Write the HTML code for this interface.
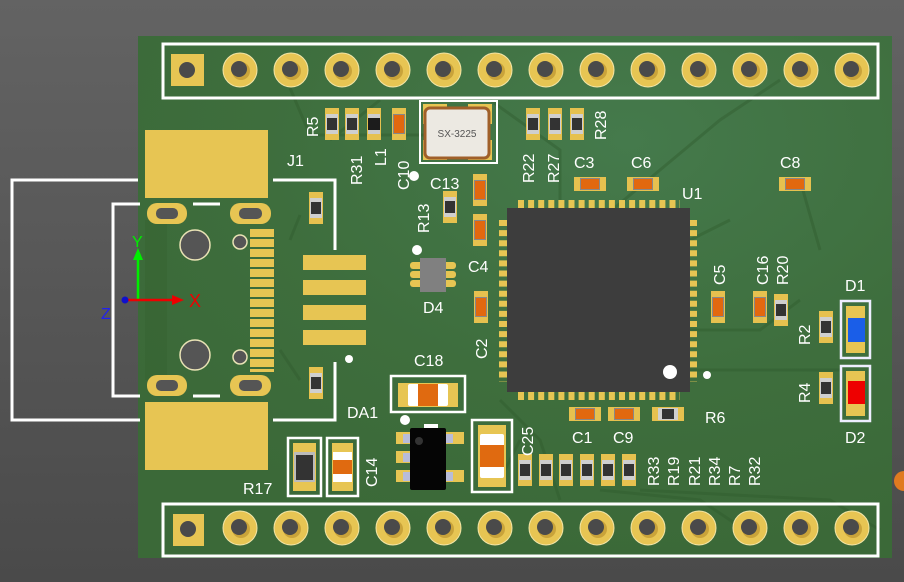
<!DOCTYPE html>
<html><head><meta charset="utf-8"><style>
html,body{margin:0;padding:0;width:904px;height:582px;overflow:hidden;background:#5c5c5c}
svg{display:block}
text{font-family:"Liberation Sans",sans-serif;fill:#fff;font-size:16px}
</style></head><body>
<svg width="904" height="582" viewBox="0 0 904 582" xmlns="http://www.w3.org/2000/svg">
<defs>
<linearGradient id="bg" x1="0" y1="0" x2="0" y2="1"><stop offset="0" stop-color="#636363"/><stop offset="1" stop-color="#4a4a4a"/></linearGradient>
<radialGradient id="brd" cx="0.65" cy="0.2" r="0.8"><stop offset="0" stop-color="#457a4c"/><stop offset="0.6" stop-color="#3e6e3d"/><stop offset="1" stop-color="#3b6938"/></radialGradient>
<g id="pin"><circle r="17" fill="#e7c553" stroke="#f3e6a8" stroke-width="1"/><circle cx="1" cy="1" r="9" fill="#c9a33a"/><circle cx="-1" cy="-1" r="8" fill="#4a4a4a"/></g>
<g id="rv"><rect x="-7" y="-16" width="14" height="32" fill="#e6c14f"/><rect x="-6" y="-10" width="12" height="20" fill="#cfcfcf"/><rect x="-5" y="-6" width="10" height="12" fill="#333"/></g>
<g id="cv"><rect x="-7" y="-16" width="14" height="32" fill="#e6c14f"/><rect x="-6" y="-10" width="12" height="20" fill="#888"/><rect x="-5" y="-9" width="10" height="18" fill="#e2680f"/></g>
<g id="lv"><rect x="-7" y="-16" width="14" height="32" fill="#e6c14f"/><rect x="-6" y="-10" width="12" height="20" fill="#ccc"/><rect x="-6" y="-6" width="12" height="12" fill="#1c1c1c"/></g>
</defs>
<rect width="904" height="582" fill="url(#bg)"/>
<rect x="138" y="36" width="754" height="522" fill="url(#brd)"/>
<!-- traces -->
<g stroke="#2f5a2c" stroke-width="3" fill="none" opacity="0.4">
<path d="M290 88 L310 135 L440 135"/><path d="M380 100 L330 140"/><path d="M490 100 L560 150 L560 200"/>
<path d="M690 240 L730 220"/><path d="M690 330 L760 330 L800 300"/><path d="M690 370 L840 370"/>
<path d="M500 400 L540 440 L560 500"/><path d="M600 490 L700 500 L760 540"/><path d="M640 490 L830 500 L880 530"/>
<path d="M290 240 L300 215"/><path d="M280 350 L300 380"/><path d="M520 440 L500 480"/>
<path d="M800 180 L820 250"/><path d="M600 220 L720 120 L780 80"/>
</g>
<!-- outlines J1 -->
<g stroke="#fff" stroke-width="3" fill="none">
<path d="M138 180 L12 180 L12 420 L140 420"/>
<path d="M140 204 L113 204 L113 396 L140 396"/>
<path d="M273 180 L335 180 L335 250"/>
<path d="M273 420 L335 420 L335 362"/>
<path d="M193 204 L220 204"/><path d="M193 396 L220 396"/>
<rect x="163" y="44" width="715" height="54"/>
<rect x="163" y="504" width="715" height="52"/>
</g>
<!-- top header -->
<rect x="171" y="54" width="33" height="32" fill="#e7c553"/><circle cx="187" cy="70" r="8" fill="#4a4a4a"/>
<use href="#pin" x="240" y="70"/><use href="#pin" x="291" y="70"/><use href="#pin" x="342" y="70"/><use href="#pin" x="393" y="70"/><use href="#pin" x="444" y="70"/><use href="#pin" x="495" y="70"/><use href="#pin" x="546" y="70"/><use href="#pin" x="597" y="70"/><use href="#pin" x="648" y="70"/><use href="#pin" x="699" y="70"/><use href="#pin" x="750" y="70"/><use href="#pin" x="801" y="70"/><use href="#pin" x="852" y="70"/>
<!-- bottom header -->
<rect x="173" y="514" width="31" height="32" fill="#e7c553"/><circle cx="188" cy="529" r="8" fill="#4a4a4a"/>
<use href="#pin" x="240" y="528"/><use href="#pin" x="291" y="528"/><use href="#pin" x="342" y="528"/><use href="#pin" x="393" y="528"/><use href="#pin" x="444" y="528"/><use href="#pin" x="495" y="528"/><use href="#pin" x="546" y="528"/><use href="#pin" x="597" y="528"/><use href="#pin" x="648" y="528"/><use href="#pin" x="699" y="528"/><use href="#pin" x="750" y="528"/><use href="#pin" x="801" y="528"/><use href="#pin" x="852" y="528"/>
<!-- J1 -->
<rect x="145" y="130" width="123" height="68" fill="#e7c553"/>
<rect x="145" y="402" width="123" height="68" fill="#e7c553"/>
<rect x="145" y="220" width="22" height="160" fill="#34612f" opacity="0.4"/>
<g fill="#e7c553"><rect x="147" y="203" width="40" height="21" rx="10"/><rect x="230" y="203" width="41" height="21" rx="10"/><rect x="147" y="375" width="40" height="21" rx="10"/><rect x="230" y="375" width="41" height="21" rx="10"/></g>
<g fill="#555"><rect x="156" y="208" width="22" height="11" rx="5"/><rect x="239" y="208" width="23" height="11" rx="5"/><rect x="156" y="380" width="22" height="11" rx="5"/><rect x="239" y="380" width="23" height="11" rx="5"/></g>
<g fill="#555" stroke="#e9e3b5" stroke-width="1.5"><circle cx="195" cy="245" r="15"/><circle cx="240" cy="242" r="7"/><circle cx="195" cy="355" r="15"/><circle cx="240" cy="357" r="7"/></g>
<line x1="262" y1="229" x2="262" y2="372" stroke="#e7c553" stroke-width="24" stroke-dasharray="8 2"/>
<g fill="#e7c553"><rect x="303" y="255" width="63" height="15"/><rect x="303" y="280" width="63" height="15"/><rect x="303" y="305" width="63" height="15"/><rect x="303" y="330" width="63" height="15"/></g>
<!-- axes -->
<line x1="138" y1="300" x2="138" y2="258" stroke="#00ee00" stroke-width="2.5"/><polygon points="133,260 143,260 138,248" fill="#00ee00"/>
<line x1="125" y1="300" x2="175" y2="300" stroke="#ee0000" stroke-width="2.5"/><polygon points="172,295 172,305 184,300" fill="#ee0000"/>
<circle cx="125" cy="300" r="3.5" fill="#1010cc"/>
<text x="132" y="247" style="fill:#00ee00;font-size:16px">Y</text>
<text x="189" y="307" style="fill:#ee0000;font-size:18px">X</text>
<text x="101" y="319" style="fill:#2222ee;font-size:16px">Z</text>
<!-- small parts -->
<use href="#rv" x="332" y="124"/><use href="#rv" x="352" y="124"/><use href="#lv" x="374" y="124"/><use href="#cv" x="399" y="124"/>
<use href="#rv" x="533" y="124"/><use href="#rv" x="555" y="124"/><use href="#rv" x="577" y="124"/>
<use href="#cv" transform="translate(590,184) rotate(90)"/><use href="#cv" transform="translate(643,184) rotate(90)"/><use href="#cv" transform="translate(795,184) rotate(90)"/>
<use href="#cv" x="480" y="190"/><use href="#rv" x="450" y="207"/><use href="#cv" x="480" y="230"/><use href="#cv" x="481" y="307"/>
<use href="#rv" x="316" y="208"/><use href="#rv" x="316" y="383"/>
<use href="#cv" x="718" y="307"/><use href="#cv" x="760" y="307"/><use href="#rv" x="781" y="310"/>
<use href="#rv" x="826" y="327"/><use href="#rv" x="826" y="388"/>
<use href="#cv" transform="translate(585,414) rotate(90)"/><use href="#cv" transform="translate(624,414) rotate(90)"/><use href="#rv" transform="translate(668,414) rotate(90)"/>
<use href="#rv" x="525" y="470"/><use href="#rv" x="546" y="470"/><use href="#rv" x="566" y="470"/><use href="#rv" x="587" y="470"/><use href="#rv" x="608" y="470"/><use href="#rv" x="629" y="470"/>
<!-- crystal -->
<rect x="420" y="101" width="77" height="62" fill="none" stroke="#fff" stroke-width="2"/>
<g fill="#e7c553"><rect x="423" y="104" width="24" height="20"/><rect x="468" y="104" width="24" height="20"/><rect x="423" y="140" width="24" height="20"/><rect x="468" y="140" width="24" height="20"/></g>
<rect x="425" y="108" width="64" height="50" rx="5" fill="#ece9e2" stroke="#a0602a" stroke-width="3"/>
<text x="457" y="137" text-anchor="middle" style="fill:#555;font-size:10px">SX-3225</text>
<!-- U1 -->
<line x1="518" y1="204" x2="680" y2="204" stroke="#e7c553" stroke-width="8" stroke-dasharray="6 4.1"/>
<line x1="518" y1="396" x2="680" y2="396" stroke="#e7c553" stroke-width="8" stroke-dasharray="6 4.1"/>
<line x1="503" y1="220" x2="503" y2="382" stroke="#e7c553" stroke-width="8" stroke-dasharray="6 4.1"/>
<line x1="693" y1="220" x2="693" y2="382" stroke="#e7c553" stroke-width="8" stroke-dasharray="6 4.1"/>
<rect x="507" y="208" width="183" height="184" fill="#3d3d3d"/>
<circle cx="670" cy="372" r="7" fill="#fff"/><circle cx="707" cy="375" r="4" fill="#fff"/>
<!-- D4 -->
<g fill="#e7c553"><rect x="410" y="262" width="14" height="7" rx="3"/><rect x="410" y="271" width="14" height="7" rx="3"/><rect x="410" y="280" width="14" height="7" rx="3"/><rect x="442" y="262" width="14" height="7" rx="3"/><rect x="442" y="271" width="14" height="7" rx="3"/><rect x="442" y="280" width="14" height="7" rx="3"/></g>
<rect x="420" y="258" width="26" height="34" fill="#808080"/>
<circle cx="417" cy="250" r="5" fill="#fff"/><circle cx="414" cy="176" r="5" fill="#fff"/><circle cx="349" cy="359" r="4" fill="#fff"/>
<!-- D1 D2 -->
<rect x="841" y="301" width="29" height="57" fill="none" stroke="#eef" stroke-width="2.5"/>
<rect x="846" y="306" width="19" height="47" fill="#e7c553"/><rect x="848" y="318" width="17" height="24" fill="#1a5ee8"/>
<rect x="841" y="366" width="29" height="55" fill="none" stroke="#eef" stroke-width="2.5"/>
<rect x="846" y="371" width="19" height="45" fill="#e7c553"/><rect x="848" y="381" width="17" height="23" fill="#e00"/>
<!-- C18 -->
<rect x="391" y="376" width="74" height="36" fill="none" stroke="#fff" stroke-width="2.5"/>
<rect x="398" y="383" width="60" height="24" fill="#e7c553"/>
<rect x="408" y="384" width="40" height="22" rx="2" fill="#fff"/><rect x="418" y="384" width="20" height="22" fill="#e06a10"/>
<circle cx="405" cy="420" r="5" fill="#fff"/>
<!-- DA1 -->
<g fill="#e7c553"><rect x="396" y="432" width="16" height="12"/><rect x="396" y="451" width="16" height="12"/><rect x="396" y="470" width="16" height="12"/><rect x="444" y="432" width="20" height="12"/><rect x="444" y="470" width="20" height="12"/></g>
<g fill="#b8bcd8"><rect x="403" y="434" width="9" height="9"/><rect x="403" y="453" width="9" height="9"/><rect x="403" y="472" width="9" height="9"/><rect x="444" y="434" width="9" height="9"/><rect x="444" y="472" width="9" height="9"/></g>
<rect x="424" y="424" width="14" height="6" fill="#fff"/>
<rect x="410" y="428" width="36" height="62" rx="2" fill="#050505"/><circle cx="419" cy="441" r="4" fill="#333"/>
<!-- big cap -->
<rect x="472" y="420" width="40" height="72" fill="none" stroke="#fff" stroke-width="2.5"/>
<rect x="478" y="425" width="28" height="62" fill="#e7c553"/>
<rect x="480" y="434" width="24" height="44" rx="2" fill="#fff"/><rect x="480" y="445" width="24" height="22" fill="#e06a10"/>
<!-- R17 pair -->
<rect x="288" y="438" width="33" height="58" fill="none" stroke="#fff" stroke-width="2.5"/>
<rect x="293" y="443" width="23" height="48" fill="#e7c553"/><rect x="294" y="452" width="21" height="30" fill="#bbb"/><rect x="296" y="455" width="17" height="25" fill="#333"/>
<rect x="327" y="438" width="31" height="58" fill="none" stroke="#fff" stroke-width="2.5"/>
<rect x="332" y="443" width="21" height="48" fill="#e7c553"/><rect x="333" y="452" width="19" height="30" fill="#fff"/><rect x="333" y="460" width="19" height="14" fill="#e06a10"/>
<!-- labels -->
<text x="287" y="166">J1</text>
<text x="414" y="366">C18</text>
<text x="347" y="418">DA1</text>
<text x="430" y="189">C13</text>
<text x="574" y="168">C3</text>
<text x="631" y="168">C6</text>
<text x="780" y="168">C8</text>
<text x="682" y="199">U1</text>
<text x="468" y="272">C4</text>
<text x="423" y="313">D4</text>
<text x="845" y="291">D1</text>
<text x="845" y="443">D2</text>
<text x="705" y="423">R6</text>
<text x="572" y="443">C1</text>
<text x="613" y="443">C9</text>
<text x="243" y="494">R17</text>
<g>
<text transform="translate(318,137) rotate(-90)">R5</text>
<text transform="translate(362,185) rotate(-90)">R31</text>
<text transform="translate(386,166) rotate(-90)">L1</text>
<text transform="translate(409,190) rotate(-90)">C10</text>
<text transform="translate(534,183) rotate(-90)">R22</text>
<text transform="translate(559,183) rotate(-90)">R27</text>
<text transform="translate(606,140) rotate(-90)">R28</text>
<text transform="translate(429,233) rotate(-90)">R13</text>
<text transform="translate(487,359) rotate(-90)">C2</text>
<text transform="translate(725,285) rotate(-90)">C5</text>
<text transform="translate(768,285) rotate(-90)">C16</text>
<text transform="translate(788,285) rotate(-90)">R20</text>
<text transform="translate(810,345) rotate(-90)">R2</text>
<text transform="translate(810,403) rotate(-90)">R4</text>
<text transform="translate(377,487) rotate(-90)">C14</text>
<text transform="translate(533,456) rotate(-90)">C25</text>
<text transform="translate(659,486) rotate(-90)">R33</text>
<text transform="translate(679,486) rotate(-90)">R19</text>
<text transform="translate(700,486) rotate(-90)">R21</text>
<text transform="translate(720,486) rotate(-90)">R34</text>
<text transform="translate(740,486) rotate(-90)">R7</text>
<text transform="translate(760,486) rotate(-90)">R32</text>
</g>
<circle cx="904" cy="481" r="10" fill="#e07a20"/>
</svg>
</body></html>
